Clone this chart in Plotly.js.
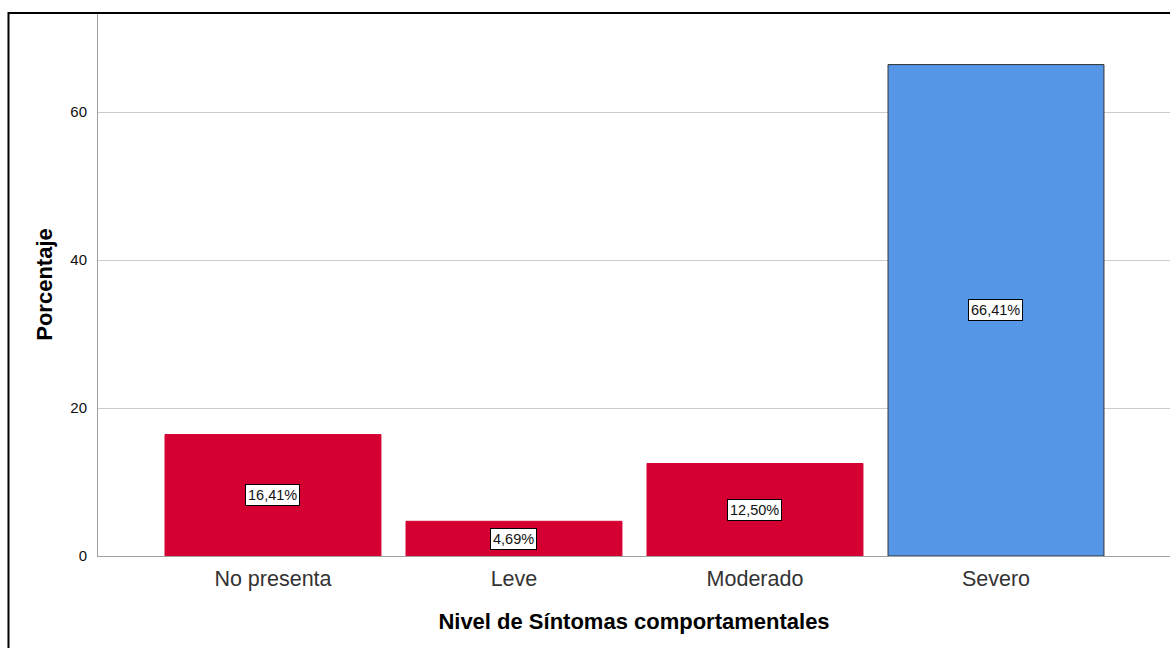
<!DOCTYPE html>
<html>
<head>
<meta charset="utf-8">
<script src="https://cdn.plot.ly/plotly-3.0.1.min.js"></script>
<style>html,body{margin:0;padding:0;background:#fff;}#chart{width:1170px;height:648px;}</style>
</head>
<body>
<div id="chart"></div>
<script>
const categories = ["No presenta", "Leve", "Moderado", "Severo"];
const percentages = [16.41, 4.69, 12.50, 66.41];
const barColors = ["#D50032", "#D50032", "#D50032", "#5596E6"];
const lineColors = ["#D50032", "#D50032", "#D50032", "#333333"];
const yTicks = [0, 20, 40, 60];

const fmt = v => v.toFixed(2).replace('.', ',') + '%';

const trace = {
  type: 'bar',
  x: categories,
  y: percentages,
  marker: { color: barColors, line: { color: lineColors, width: 1 } },
  hoverinfo: 'x+y'
};

const annotations = categories.map((c, i) => ({
  x: c, y: percentages[i] / 2, xref: 'x', yref: 'y',
  text: fmt(percentages[i]), showarrow: false,
  bgcolor: '#ffffff', bordercolor: '#000000', borderwidth: 1, borderpad: 2,
  font: { family: 'Liberation Sans, Arial, sans-serif', size: 14.5, color: '#111' }
}));

const layout = {
  width: 1170, height: 648,
  margin: { l: 98, r: 0, t: 13, b: 92, pad: 0 },
  paper_bgcolor: '#ffffff', plot_bgcolor: '#ffffff',
  bargap: 0.104,
  showlegend: false,
  font: { family: 'Liberation Sans, Arial, sans-serif', color: '#000' },
  xaxis: {
    range: [-0.726, 3.722],
    showline: true, linecolor: '#a0a0a0', linewidth: 1,
    showgrid: false, zeroline: false, ticks: 'outside', ticklen: 3, tickcolor: 'rgba(0,0,0,0)',
    tickfont: { size: 21.5, color: '#333' },
    title: { text: '<b>Nivel de Síntomas comportamentales</b>', font: { size: 22, color: '#000' }, standoff: 23 }
  },
  yaxis: {
    range: [0, 73.38],
    tickvals: yTicks, ticktext: yTicks.map(String),
    showline: true, linecolor: '#a0a0a0', linewidth: 1,
    showgrid: true, gridcolor: '#cccccc', gridwidth: 1,
    zeroline: false, ticks: 'outside', ticklen: 7, tickcolor: 'rgba(0,0,0,0)',
    tickfont: { size: 15, color: '#111' },
    title: { text: '<b>Porcentaje</b>', font: { size: 22, color: '#000' }, standoff: 11 }
  },
  annotations: annotations,
  shapes: [{
    type: 'rect', xref: 'paper', yref: 'paper',
    x0: -0.0835, x1: 1.05, y0: -0.3, y1: 1,
    line: { color: '#000', width: 2 }, fillcolor: 'rgba(0,0,0,0)', layer: 'above'
  }]
};

Plotly.newPlot('chart', [trace], layout, { displayModeBar: false, staticPlot: true });
</script>
</body>
</html>
